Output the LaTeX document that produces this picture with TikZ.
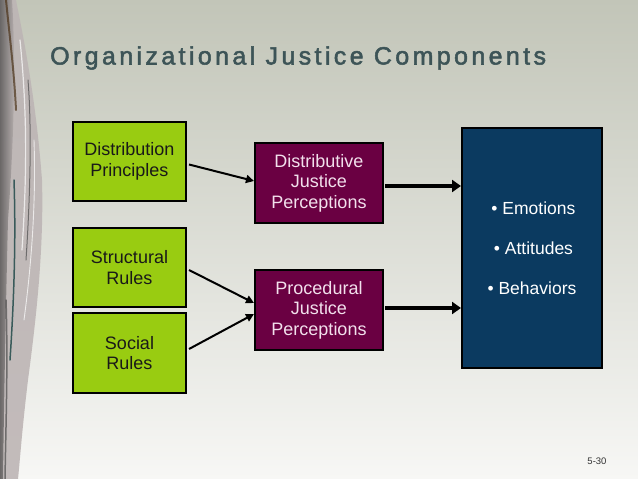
\documentclass[tikz,border=0pt]{standalone}
\usepackage{fontspec}
\setmainfont{Liberation Sans}
\usetikzlibrary{arrows.meta,calc}
\definecolor{bgtop}{HTML}{C2C5B8}
\definecolor{bgbot}{HTML}{F7F7F5}
\definecolor{lime}{HTML}{99CC11}
\definecolor{plum}{HTML}{6A0042}
\definecolor{navy}{HTML}{0B3A60}
\definecolor{titlec}{HTML}{3D5457}
\definecolor{lighttext}{HTML}{F2E0EC}
\definecolor{water}{HTML}{BDB5B5}
\begin{document}
\begin{tikzpicture}[x=1pt,y=-1pt,
  box/.style={draw=black, line width=2pt, inner sep=0pt, align=center,
    font=\fontsize{18}{20.5}\selectfont},
  greenbox/.style={box, fill=lime, text=black!90, minimum width=113pt, minimum height=79pt},
  plumbox/.style={box, fill=plum, text=lighttext, minimum width=128pt, minimum height=80pt},
  bluebox/.style={box, fill=navy, text=white, minimum width=140pt, minimum height=240pt,
    font=\fontsize{17.5}{40}\selectfont},
  thin/.style={line width=2pt, -{Triangle[length=8pt,width=8pt]}},
  thick/.style={line width=4pt, -{Triangle[length=9pt,width=12pt]}},
  streak/.style={line cap=round, opacity=0.7}
]
\useasboundingbox (0,0) rectangle (638,479);
% background
\shade[top color=bgtop, bottom color=bgbot, middle color=bgtop!50!bgbot] (0,0) rectangle (638,479);
% left water texture (approximation)
\fill[water, opacity=0.9]
  (0,0) -- (16,0) .. controls (24,40) and (36,100) .. (42,180)
  .. controls (44,250) and (36,320) .. (28,380) .. controls (22,430) and (20,460) .. (18,479)
  -- (0,479) -- cycle;
\shade[left color=black!80, right color=water, opacity=0.6]
  (0,0) -- (12,0) .. controls (16,60) and (14,140) .. (8,220) .. controls (6,300) and (4,400) .. (3,479) -- (0,479) -- cycle;
\draw[streak, black!60!brown, line width=2pt] (6,0) .. controls (10,40) and (14,70) .. (16,110);
\draw[streak, white, line width=1.2pt] (20,40) .. controls (26,100) and (28,160) .. (22,250);
\draw[streak, black!70, line width=1pt] (28,80) .. controls (32,130) and (30,200) .. (26,260);
\draw[streak, white, line width=0.9pt] (34,140) .. controls (36,200) and (32,260) .. (24,320);
\draw[streak, teal!40!black, line width=1.5pt] (14,180) .. controls (16,240) and (14,300) .. (10,360);
\draw[streak, black!70, line width=1.5pt] (6,300) .. controls (8,360) and (6,420) .. (5,479);
% title
\node[anchor=base west, inner sep=0pt, text=titlec,
  font=\fontsize{25}{30}\selectfont\addfontfeatures{LetterSpace=13.5,FakeBold=2}] (title) at (50,64.5)
  {Organizational Justice Components};
% boxes
\node[greenbox] (dp) at (129.5,161.5) {Distribution\\Principles};
\node[greenbox] (sr) at (129.5,267.5) {Structural\\Rules};
\node[greenbox, minimum height=80pt] (so) at (129.5,353) {Social\\Rules};
\node[plumbox] (djp) at (319,183) {Distributive\\Justice\\Perceptions};
\node[plumbox] (pjp) at (319,310) {Procedural\\Justice\\Perceptions};
\node[bluebox] (out) at (532,248) {\,• Emotions\\\,• Attitudes\\• Behaviors};
% connectors
\draw[thin] ($(dp.east)+(2,3)$) -- ($(djp.west)+(0,-2)$);
\draw[thin] ($(sr.east)+(2,2.5)$) -- ($(pjp.west)+(0,-7)$);
\draw[thin] ($(so.east)+(2,-4)$) -- ($(pjp.west)+(0,4)$);
\coordinate (a1) at ($(djp.east)+(1,3)$);
\coordinate (a2) at ($(pjp.east)+(1,-2)$);
\draw[thick] (a1) -- (out.west |- a1);
\draw[thick] (a2) -- (out.west |- a2);
% page number
\node[font=\fontsize{9.5}{11}\selectfont, text=black!80] (pg) at (597,461) {5-30};
\end{tikzpicture}
\end{document}
